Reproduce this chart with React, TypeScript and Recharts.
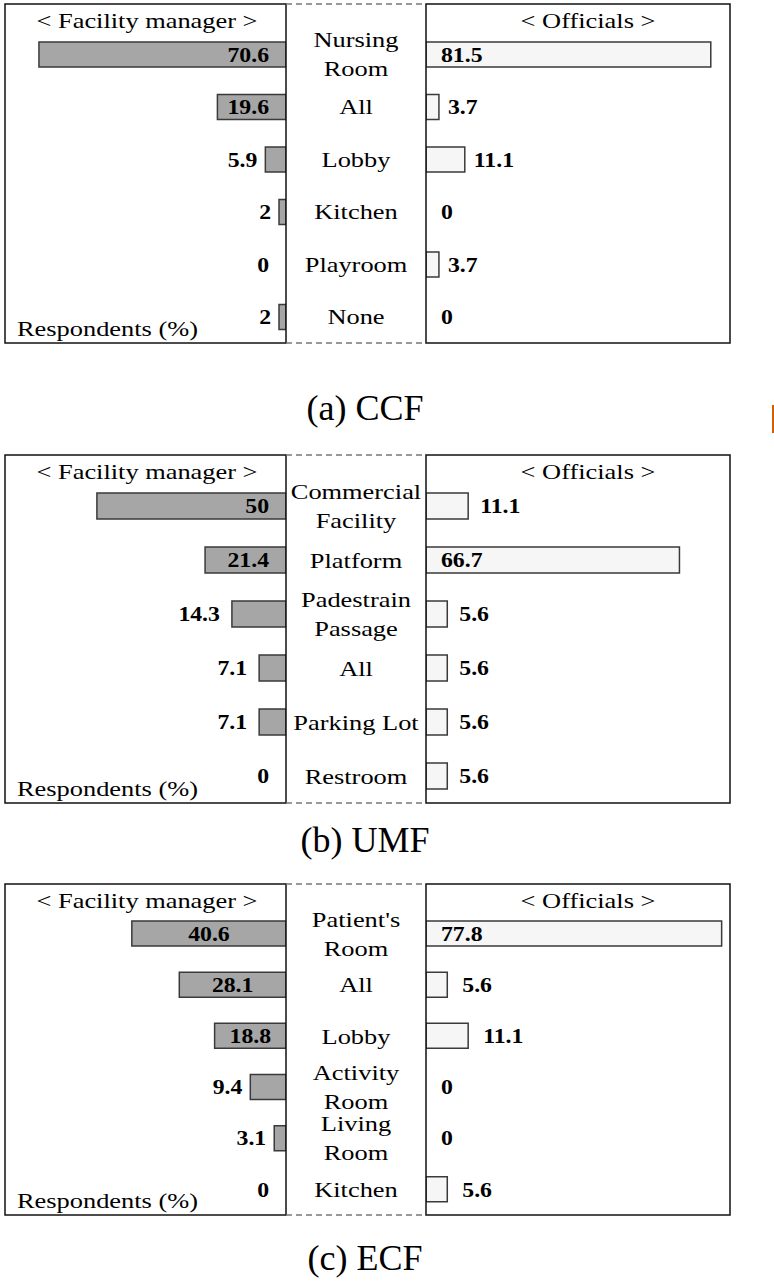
import React from "react";
import { BarChart, Bar, XAxis, YAxis, LabelList, Cell } from "recharts";

// (a) CCF
const ccfCategories = ["Nursing\nRoom", "All", "Lobby", "Kitchen", "Playroom", "None"];
const ccfManager = [70.6, 19.6, 5.9, 2, 0, 2];
const ccfOfficials = [81.5, 3.7, 11.1, 0, 3.7, 0];

// (b) UMF
const umfCategories = ["Commercial\nFacility", "Platform", "Padestrain\nPassage", "All", "Parking Lot", "Restroom"];
const umfManager = [50, 21.4, 14.3, 7.1, 7.1, 0];
const umfOfficials = [11.1, 66.7, 5.6, 5.6, 5.6, 5.6];

// (c) ECF
const ecfCategories = ["Patient's\nRoom", "All", "Lobby", "Activity\nRoom", "Living\nRoom", "Kitchen"];
const ecfManager = [40.6, 28.1, 18.8, 9.4, 3.1, 0];
const ecfOfficials = [77.8, 5.6, 11.1, 0, 0, 5.6];

const FONT = "'Liberation Serif', 'Times New Roman', serif";
const LEFT_X = 5;
const MID_X = 286;
const RIGHT_X = 426;
const RIGHT_END = 730;
const CAT_W = RIGHT_X - MID_X;
const TOP_PAD = 24;
const STRETCH = 1.2;

type STextProps = {
  x: number;
  y: number;
  anchor?: "start" | "middle" | "end";
  size?: number;
  bold?: boolean;
  sx?: number;
  children: React.ReactNode;
};

function SText({ x, y, anchor = "middle", size = 22, bold = false, sx = STRETCH, children }: STextProps) {
  return (
    <text
      transform={`translate(${x} ${y}) scale(${sx} 1)`}
      textAnchor={anchor}
      dominantBaseline="central"
      fontFamily={FONT}
      fontSize={size}
      fontWeight={bold ? 700 : 400}
      fill="#000"
    >
      {children}
    </text>
  );
}

function leftLabel(gap: number, mode: "end" | "center") {
  return (p: any) => {
    const x = Number(p.x), w = Number(p.width), y = Number(p.y), h = Number(p.height);
    const v = Number(p.value);
    const lo = Math.min(x, x + w), hi = Math.max(x, x + w);
    const cy = y + h / 2;
    let tx = lo - gap;
    let anchor: "end" | "middle" = "end";
    if (hi - lo > 60) {
      if (mode === "center") {
        tx = (lo + hi) / 2;
        anchor = "middle";
      } else tx = hi - 17;
    } else if (v === 0) tx = hi - 17;
    return (
      <SText x={tx} y={cy} anchor={anchor} bold sx={1.08}>
        {v}
      </SText>
    );
  };
}

function rightLabel(gap: number) {
  return (p: any) => {
    const x = Number(p.x), w = Number(p.width), y = Number(p.y), h = Number(p.height);
    const v = Number(p.value);
    const lo = Math.min(x, x + w), hi = Math.max(x, x + w);
    const cy = y + h / 2;
    let tx = hi + gap;
    if (hi - lo > 60 || v === 0) tx = lo + 15;
    return (
      <SText x={tx} y={cy} anchor="start" bold sx={1.08}>
        {v}
      </SText>
    );
  };
}

const CategoryTick = (p: any) => {
  const lines = String(p.payload.value).split("\n");
  const step = 29;
  const cy = Number(p.y);
  const off = ((lines.length - 1) * step) / 2;
  return (
    <g>
      {lines.map((l, i) => (
        <SText key={i} x={CAT_W / 2} y={cy - off + i * step}>
          {l}
        </SText>
      ))}
    </g>
  );
};

type PanelProps = {
  categories: string[];
  manager: number[];
  officials: number[];
  caption: string;
  top: number;
  height: number;
  captionY: number;
  leftMax: number;
  rightMax: number;
  barSize: number;
  gapL: number;
  gapR: number;
  inside: "end" | "center";
};

function Panel(props: PanelProps) {
  const { categories, manager, officials, caption, top, height, captionY, leftMax, rightMax, barSize, gapL, gapR, inside } = props;
  const rows = categories.map((name, i) => ({ name, manager: manager[i], officials: officials[i] }));
  const bottom = top + height;
  return (
    <>
      <div style={{ position: "absolute", left: LEFT_X, top }}>
        <BarChart width={MID_X - LEFT_X} height={height} data={rows} layout="vertical"
          margin={{ top: TOP_PAD, right: 0, bottom: 0, left: 0 }} barCategoryGap={0}>
          <XAxis type="number" domain={[0, leftMax]} allowDataOverflow reversed hide />
          <YAxis type="category" dataKey="name" hide />
          <Bar dataKey="manager" fill="#a6a6a6" stroke="#3a3a3a" strokeWidth={1.5} barSize={barSize}
            minPointSize={0.01} isAnimationActive={false}>
            {rows.map((r, i) => (
              <Cell key={i} stroke={r.manager === 0 ? "none" : "#3a3a3a"} />
            ))}
            <LabelList dataKey="manager" content={leftLabel(gapL, inside)} />
          </Bar>
        </BarChart>
      </div>
      <div style={{ position: "absolute", left: MID_X, top }}>
        <BarChart width={RIGHT_END - MID_X} height={height} data={rows} layout="vertical"
          margin={{ top: TOP_PAD, right: 0, bottom: 0, left: 0 }} barCategoryGap={0}>
          <XAxis type="number" domain={[0, rightMax]} allowDataOverflow hide />
          <YAxis type="category" dataKey="name" width={CAT_W} axisLine={false} tickLine={false}
            interval={0} tick={<CategoryTick />} />
          <Bar dataKey="officials" fill="#f6f6f6" stroke="#3a3a3a" strokeWidth={1.5} barSize={barSize}
            minPointSize={0.01} isAnimationActive={false}>
            {rows.map((r, i) => (
              <Cell key={i} stroke={r.officials === 0 ? "none" : "#3a3a3a"} />
            ))}
            <LabelList dataKey="officials" content={rightLabel(gapR)} />
          </Bar>
        </BarChart>
      </div>
      <svg style={{ position: "absolute", left: 0, top: 0, pointerEvents: "none" }} width={774} height={1282}>
        <rect x={LEFT_X} y={top} width={MID_X - LEFT_X} height={height} fill="none" stroke="#111" strokeWidth={1.5} />
        <rect x={RIGHT_X} y={top} width={RIGHT_END - RIGHT_X} height={height} fill="none" stroke="#111" strokeWidth={1.5} />
        <line x1={MID_X} x2={RIGHT_X} y1={top} y2={top} stroke="#777" strokeWidth={1.5} strokeDasharray="6 4" />
        <line x1={MID_X} x2={RIGHT_X} y1={bottom} y2={bottom} stroke="#777" strokeWidth={1.5} strokeDasharray="6 4" />
        <SText x={147} y={top + 16}>{"< Facility manager >"}</SText>
        <SText x={588} y={top + 16}>{"< Officials >"}</SText>
        <SText x={17} y={bottom - 15} anchor="start">Respondents (%)</SText>
        <SText x={365} y={captionY} size={36} sx={1}>{caption}</SText>
      </svg>
    </>
  );
}

export default function App() {
  return (
    <div style={{ position: "absolute", left: 0, top: 0, width: 774, height: 1282, background: "#fff", overflow: "hidden" }}>
      <Panel categories={ccfCategories} manager={ccfManager} officials={ccfOfficials} caption="(a) CCF"
        top={4} height={339} captionY={408} leftMax={80.3} rightMax={87} barSize={25} gapL={8} gapR={9} inside="end" />
      <Panel categories={umfCategories} manager={umfManager} officials={umfOfficials} caption="(b) UMF"
        top={455} height={348} captionY={840} leftMax={74.3} rightMax={80} barSize={26} gapL={12} gapR={12} inside="end" />
      <Panel categories={ecfCategories} manager={ecfManager} officials={ecfOfficials} caption="(c) ECF"
        top={884} height={331} captionY={1258} leftMax={74} rightMax={80} barSize={25} gapL={8} gapR={15} inside="center" />
      <div style={{ position: "absolute", left: 772, top: 405, width: 2, height: 28, background: "#d35f00" }} />
    </div>
  );
}
